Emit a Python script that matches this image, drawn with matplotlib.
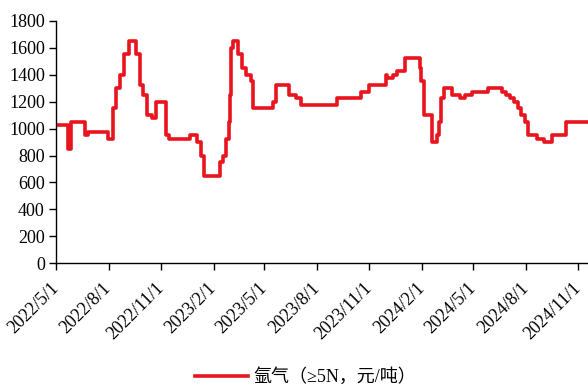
import matplotlib as mpl
mpl.use('Agg')
import matplotlib.pyplot as plt
import matplotlib.transforms as mtrans
import pandas as pd

# step-change points of the argon price (>=5N, yuan/ton)
change_dates = [
  "2022-05-01", "2022-05-22", "2022-05-27", "2022-06-21", "2022-06-26", "2022-07-31",
  "2022-08-09", "2022-08-14", "2022-08-21", "2022-08-28", "2022-09-06", "2022-09-18",
  "2022-09-25", "2022-09-30", "2022-10-07", "2022-10-16", "2022-10-23", "2022-11-10",
  "2022-11-15", "2022-12-22", "2023-01-03", "2023-01-10", "2023-01-15", "2023-02-12",
  "2023-02-17", "2023-02-23", "2023-02-28", "2023-03-02", "2023-03-04", "2023-03-07",
  "2023-03-16", "2023-03-22", "2023-03-30", "2023-04-08", "2023-04-11", "2023-05-16",
  "2023-05-22", "2023-06-13", "2023-06-26", "2023-07-04", "2023-09-05", "2023-10-17",
  "2023-10-31", "2023-11-30", "2023-12-01", "2023-12-12", "2023-12-19", "2024-01-02",
  "2024-01-28", "2024-01-30", "2024-02-04", "2024-02-18", "2024-02-27", "2024-03-02",
  "2024-03-05", "2024-03-10", "2024-03-24", "2024-04-07", "2024-04-16", "2024-04-28",
  "2024-05-26", "2024-06-21", "2024-06-28", "2024-07-04", "2024-07-11", "2024-07-18",
  "2024-07-23", "2024-07-30", "2024-08-04", "2024-08-20", "2024-09-01", "2024-09-15",
  "2024-10-10", "2024-11-17",
]
prices = [
  1025, 850, 1050, 950, 975, 925,
  1150, 1300, 1400, 1550, 1650, 1550,
  1325, 1250, 1100, 1075, 1200, 950,
  925, 950, 900, 800, 650, 750,
  800, 925, 1050, 1250, 1600, 1650,
  1550, 1450, 1400, 1350, 1150, 1200,
  1325, 1250, 1225, 1175, 1225, 1275,
  1325, 1400, 1375, 1400, 1425, 1525,
  1450, 1350, 1100, 900, 950, 1050,
  1225, 1300, 1250, 1225, 1250, 1275,
  1300, 1275, 1250, 1225, 1200, 1150,
  1100, 1050, 950, 925, 900, 950,
  1050, 1050,
]
tick_dates = ["2022-05-01", "2022-08-01", "2022-11-01", "2023-02-01", "2023-05-01",
              "2023-08-01", "2023-11-01", "2024-02-01", "2024-05-01", "2024-08-01",
              "2024-11-01"]
tick_labels = ["2022/5/1", "2022/8/1", "2022/11/1", "2023/2/1", "2023/5/1", "2023/8/1",
               "2023/11/1", "2024/2/1", "2024/5/1", "2024/8/1", "2024/11/1"]
y_ticks = [0, 200, 400, 600, 800, 1000, 1200, 1400, 1600, 1800]
legend_label = "氩气（≥5N，元/吨）"

plt.rcParams['font.family'] = ['Liberation Serif', 'Noto Sans CJK SC']

x = pd.to_datetime(change_dates)
fig = plt.figure(figsize=(5.88, 3.85), dpi=100)
ax = fig.add_axes([0.0952, 0.316, 0.904, 0.630])

ax.plot(x, prices, drawstyle='steps-post', color='#E8141E', lw=2.6, label=legend_label)

ax.set_xlim(x[0], x[-1])
ax.set_ylim(0, 1800)
ax.set_yticks(y_ticks)
ax.set_xticks(pd.to_datetime(tick_dates))
ax.set_xticklabels(tick_labels, rotation=45, ha='right', rotation_mode='anchor')
ax.tick_params(axis='both', labelsize=13, direction='out', length=5, width=1, colors='black')
ax.tick_params(axis='x', pad=6.5)
ax.tick_params(axis='y', pad=3)
# nudge rotated date labels a little to the left
shift = mtrans.ScaledTranslation(-6 / 100, 0, fig.dpi_scale_trans)
for lbl in ax.get_xticklabels():
  lbl.set_transform(lbl.get_transform() + shift)
for side in ['top', 'right']:
  ax.spines[side].set_visible(False)
for side in ['left', 'bottom']:
  ax.spines[side].set_linewidth(1)

fig.legend(loc='center', bbox_to_anchor=(0.52, 0.02), frameon=False,
           handlelength=2.9, handletextpad=0.3,
           prop={'family': ['Liberation Serif', 'Noto Sans CJK SC'], 'size': 13})

fig.savefig('out.png', dpi=100)
